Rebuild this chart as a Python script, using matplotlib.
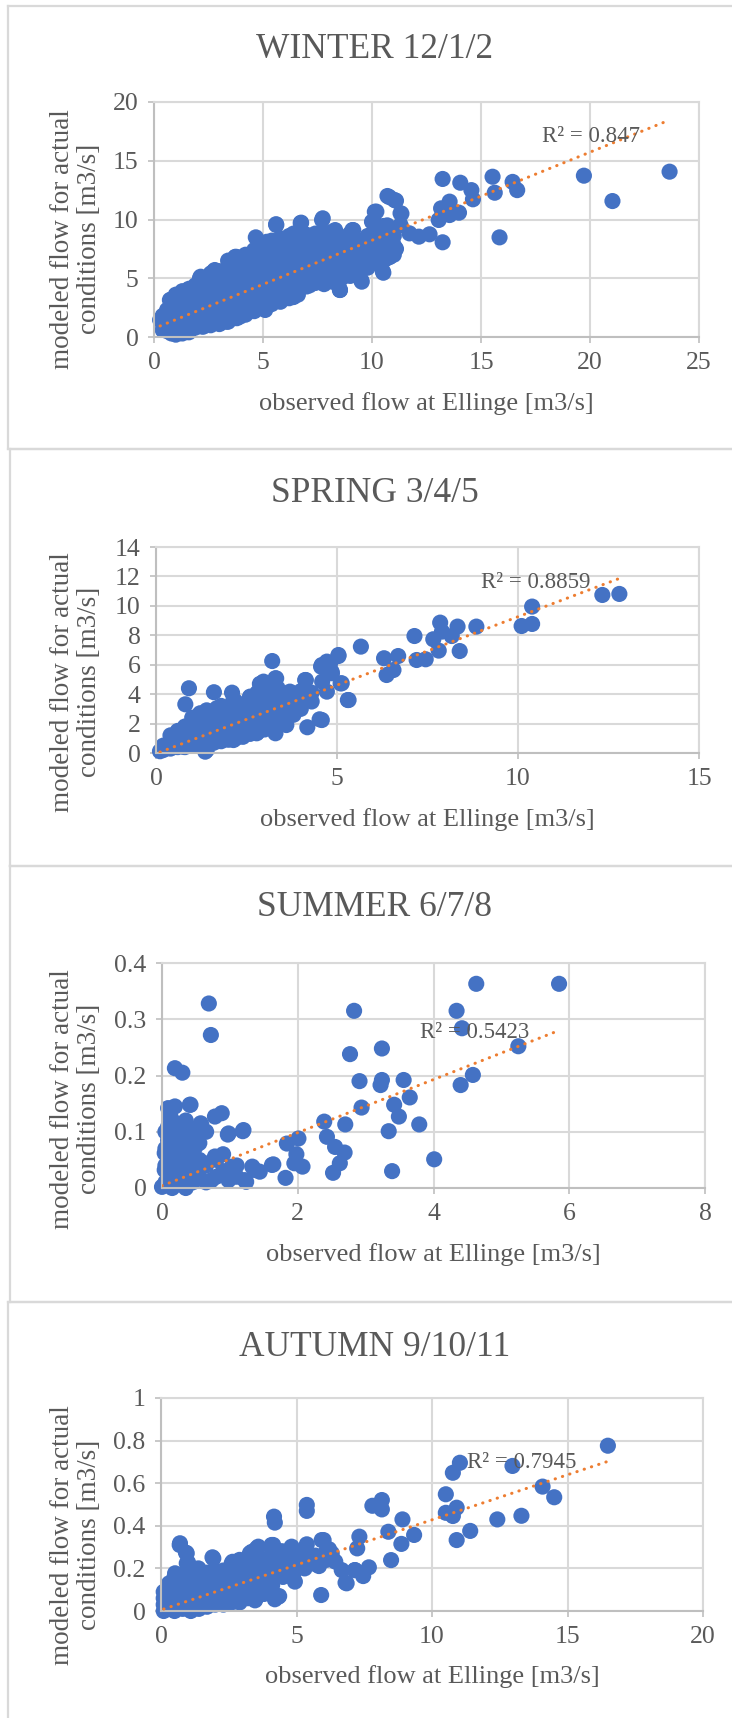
import numpy as np
import matplotlib
matplotlib.use("Agg")
import matplotlib.pyplot as plt
from matplotlib.lines import Line2D
from matplotlib.ticker import FuncFormatter

plt.rcParams["font.family"] = ["Liberation Serif", "DejaVu Serif"]

W, H = 732, 1718
BLUE = "#4472C4"
ORANGE = "#ED7D31"
TXT = "#595959"
GRID = "#D9D9D9"

titles = ["WINTER 12/1/2", "SPRING 3/4/5", "SUMMER 6/7/8", "AUTUMN 9/10/11"]
r2_labels = ["R² = 0.847", "R² = 0.8859", "R² = 0.5423", "R² = 0.7945"]
x_label = "observed flow at Ellinge [m3/s]"
y_label = "modeled flow for actual\nconditions [m3/s]"

# trendline (slope, intercept)
fits = [(0.75, 0.73), (0.93, -0.04), (0.0472, 0.004), (0.0423, 0.005)]

x_ticks = [[0, 5, 10, 15, 20, 25], [0, 5, 10, 15], [0, 2, 4, 6, 8], [0, 5, 10, 15, 20]]
y_ticks = [[0, 5, 10, 15, 20], [0, 2, 4, 6, 8, 10, 12, 14],
           [0, 0.1, 0.2, 0.3, 0.4], [0, 0.2, 0.4, 0.6, 0.8, 1]]

winter_pts = [
    (23.65, 14.07), (19.72, 13.73), (21.03, 11.57), (15.85, 8.48), (15.53, 13.64),
    (15.63, 12.28), (16.45, 13.2), (16.66, 12.5), (13.24, 13.45), (14.05, 13.13),
    (14.56, 12.5), (14.63, 11.72), (13.56, 11.52), (13.17, 10.95), (13.06, 9.96),
    (13.99, 10.58), (13.56, 10.38), (13.24, 8.06), (12.64, 8.74), (12.15, 8.54),
    (11.72, 8.82), (11.31, 10.53), (11.31, 9.53), (11.03, 11.66), (10.71, 12.0),
    (10.13, 10.66), (10.0, 9.81), (10.54, 9.45), (10.52, 5.47), (11.05, 7.55),
    (10.82, 6.83), (9.53, 4.71), (8.53, 4.0), (7.71, 9.96), (6.75, 9.73),
    (5.61, 9.53), (4.67, 8.48), (6.38, 3.43), (5.1, 2.3), (9.1, 9.1),
    (8.31, 9.1), (3.75, 6.83), (2.79, 5.7), (2.14, 5.13),
    (0.28, 1.45), (0.73, 3.15), (2.11, 5.0), (2.72, 5.56), (3.72, 6.8),
    (5.6, 9.6), (6.73, 9.7), (7.74, 10.1), (5.17, 8.1), (6.4, 8.8),
    (8.2, 8.96), (9.14, 9.1), (10.2, 10.67), (10.8, 11.9), (11.1, 11.6),
    (10.1, 9.8), (10.7, 9.5), (11.35, 10.5),
    (0.43, 0.6), (1.3, 0.5), (2.26, 0.88), (3.33, 1.3), (3.94, 1.73),
    (5.1, 2.43), (6.4, 3.4), (7.14, 4.4), (8.53, 4.0), (9.5, 4.85),
    (10.5, 5.56), (10.8, 6.8), (11.1, 7.5),
    (0.4, 0.6), (0.4, 1.2), (0.4, 1.8), (0.6, 0.5), (0.6, 1.4), (0.6, 2.3),
    (0.8, 0.3), (0.8, 1.5), (0.8, 2.6), (0.8, 3.2),
    (1.0, 0.2), (1.0, 1.3), (1.0, 2.2), (1.0, 3.0), (1.0, 3.6),
    (1.3, 0.3), (1.3, 1.5), (1.3, 2.4), (1.3, 3.3), (1.3, 3.9),
    (1.6, 0.4), (1.6, 1.6), (1.6, 2.5), (1.6, 3.4), (1.6, 4.1),
    (1.9, 0.8), (1.9, 1.7), (1.9, 2.6), (1.9, 3.5), (1.9, 4.4),
    (2.2, 0.9), (2.2, 1.8), (2.2, 2.7), (2.2, 3.6), (2.2, 4.5), (2.2, 5.0),
    (2.6, 1.0), (2.6, 1.9), (2.6, 2.8), (2.6, 3.7), (2.6, 4.6), (2.6, 5.4),
    (3.0, 1.1), (3.0, 2.0), (3.0, 2.9), (3.0, 3.8), (3.0, 4.7), (3.0, 5.6),
    (3.4, 1.3), (3.4, 2.2), (3.4, 3.1), (3.4, 4.0), (3.4, 4.9), (3.4, 5.8), (3.4, 6.5),
    (3.8, 1.6), (3.8, 2.5), (3.8, 3.4), (3.8, 4.3), (3.8, 5.2), (3.8, 6.1), (3.8, 6.8),
    (4.2, 1.9), (4.2, 2.8), (4.2, 3.7), (4.2, 4.6), (4.2, 5.5), (4.2, 6.4), (4.2, 7.0),
    (4.6, 2.2), (4.6, 3.1), (4.6, 4.0), (4.6, 4.9), (4.6, 5.8), (4.6, 6.7), (4.6, 7.4),
    (5.0, 2.5), (5.0, 3.4), (5.0, 4.3), (5.0, 5.2), (5.0, 6.1), (5.0, 7.0), (5.0, 7.8),
    (5.4, 2.8), (5.4, 3.7), (5.4, 4.6), (5.4, 5.5), (5.4, 6.4), (5.4, 7.3), (5.4, 8.2),
    (5.8, 3.0), (5.8, 3.9), (5.8, 4.8), (5.8, 5.7), (5.8, 6.6), (5.8, 7.5), (5.8, 8.4),
    (6.2, 3.3), (6.2, 4.2), (6.2, 5.1), (6.2, 6.0), (6.2, 6.9), (6.2, 7.8), (6.2, 8.6),
    (6.6, 3.6), (6.6, 4.5), (6.6, 5.4), (6.6, 6.3), (6.6, 7.2), (6.6, 8.1), (6.6, 8.9),
    (7.0, 4.3), (7.0, 5.2), (7.0, 6.1), (7.0, 7.0), (7.0, 7.9), (7.0, 8.7),
    (7.4, 4.6), (7.4, 5.5), (7.4, 6.4), (7.4, 7.3), (7.4, 8.2), (7.4, 8.8),
    (7.8, 4.5), (7.8, 5.4), (7.8, 6.3), (7.8, 7.2), (7.8, 8.1), (7.8, 8.9),
    (8.2, 4.7), (8.2, 5.6), (8.2, 6.5), (8.2, 7.4), (8.2, 8.3),
    (8.6, 5.0), (8.6, 5.9), (8.6, 6.8), (8.6, 7.7), (8.6, 8.5),
    (9.0, 5.2), (9.0, 6.1), (9.0, 7.0), (9.0, 7.9), (9.0, 8.8),
    (9.4, 5.5), (9.4, 6.4), (9.4, 7.3), (9.4, 8.2),
    (9.8, 5.9), (9.8, 6.8), (9.8, 7.7), (9.8, 8.6),
    (10.2, 6.3), (10.2, 7.2), (10.2, 8.1), (10.2, 9.0),
    (10.6, 6.6), (10.6, 7.4), (10.6, 8.3),
    (11.0, 7.0), (11.0, 7.8), (11.0, 8.6),
]

spring_pts = [
    (12.8, 10.81), (12.33, 10.74), (10.39, 9.95), (10.39, 8.77), (10.1, 8.63),
    (8.85, 8.59), (8.33, 8.59), (8.39, 6.93), (7.85, 8.86), (7.9, 8.25),
    (7.66, 7.73), (8.17, 7.95), (7.81, 6.96), (7.14, 7.95), (7.2, 6.32),
    (7.45, 6.37), (6.69, 6.59), (6.3, 6.44), (6.37, 5.3), (6.56, 5.64),
    (5.66, 7.23), (5.04, 6.59), (5.1, 4.73), (5.3, 3.6), (4.72, 6.21),
    (4.56, 5.87), (4.85, 5.53), (4.59, 4.85), (4.72, 4.17), (4.52, 2.29),
    (4.18, 1.75), (4.14, 4.96), (4.2, 3.72), (3.21, 6.25), (2.95, 4.78),
    (3.3, 5.08), (3.36, 4.4), (3.75, 4.06), (2.85, 4.06), (2.1, 4.1),
    (1.6, 4.13), (0.91, 4.4), (0.81, 3.31), (3.6, 1.9), (3.3, 1.34),
    (1.36, 0.09), (0.11, 0.12), (0.75, 1.56), (1.22, 2.7), (1.68, 3.04),
    (2.14, 3.6), (2.6, 3.83), (2.87, 4.7), (0.75, 0.43), (1.4, 0.2),
    (2.14, 0.88), (2.78, 1.34), (4.58, 2.24), (2.97, 4.85), (3.32, 5.07),
    (3.7, 4.17), (4.12, 4.96), (4.58, 5.98), (4.81, 6.1), (5.04, 6.66),
    (4.86, 5.42), (5.13, 4.74), (5.32, 3.6),
    (0.2, 0.2), (0.2, 0.5), (0.4, 0.3), (0.4, 0.8), (0.4, 1.2),
    (0.6, 0.4), (0.6, 1.0), (0.6, 1.5), (0.8, 0.4), (0.8, 1.1), (0.8, 1.8),
    (1.0, 0.5), (1.0, 1.2), (1.0, 1.9), (1.0, 2.4),
    (1.2, 0.6), (1.2, 1.3), (1.2, 2.0), (1.2, 2.6),
    (1.4, 0.4), (1.4, 1.1), (1.4, 1.8), (1.4, 2.5), (1.4, 2.9),
    (1.6, 0.7), (1.6, 1.4), (1.6, 2.1), (1.6, 2.8),
    (1.8, 0.8), (1.8, 1.5), (1.8, 2.2), (1.8, 2.9), (1.8, 3.2),
    (2.0, 0.9), (2.0, 1.6), (2.0, 2.3), (2.0, 3.0),
    (2.2, 1.0), (2.2, 1.7), (2.2, 2.4), (2.2, 3.1), (2.2, 3.5),
    (2.4, 1.1), (2.4, 1.8), (2.4, 2.5), (2.4, 3.2),
    (2.6, 1.3), (2.6, 2.0), (2.6, 2.7), (2.6, 3.4), (2.6, 3.8),
    (2.8, 1.4), (2.8, 2.1), (2.8, 2.8), (2.8, 3.5), (2.8, 4.1),
    (3.0, 1.6), (3.0, 2.3), (3.0, 3.0), (3.0, 3.7), (3.0, 4.3),
    (3.2, 1.8), (3.2, 2.5), (3.2, 3.2), (3.2, 3.9),
    (3.4, 2.0), (3.4, 2.7), (3.4, 3.4), (3.4, 4.0),
    (3.6, 2.2), (3.6, 2.9), (3.6, 3.5), (3.8, 2.6), (3.8, 3.3), (3.8, 3.9),
    (4.0, 3.0), (4.0, 3.6), (4.0, 4.2), (4.3, 3.5), (4.3, 4.1),
]

summer_pts = [
    (5.85, 0.363), (4.63, 0.363), (4.34, 0.315), (4.42, 0.284), (5.25, 0.252),
    (4.58, 0.201), (4.4, 0.183), (4.01, 0.051), (3.79, 0.113), (3.65, 0.161),
    (3.56, 0.192), (3.49, 0.127), (3.42, 0.148), (3.34, 0.101), (3.39, 0.030),
    (3.24, 0.248), (3.24, 0.192), (3.22, 0.183), (2.83, 0.315), (2.77, 0.238),
    (2.91, 0.190), (2.94, 0.143), (2.7, 0.113), (2.69, 0.063), (2.62, 0.044),
    (2.52, 0.027), (2.55, 0.073), (2.43, 0.091), (2.39, 0.118), (2.01, 0.088),
    (1.98, 0.060), (2.07, 0.038), (1.95, 0.044), (1.82, 0.018), (1.84, 0.079),
    (1.64, 0.042), (1.44, 0.029), (1.33, 0.038), (1.24, 0.011), (1.19, 0.101),
    (0.97, 0.095), (0.88, 0.133), (0.78, 0.127), (0.69, 0.328), (0.72, 0.272),
    (0.19, 0.213), (0.30, 0.205), (0.42, 0.148), (0.19, 0.145), (0.12, 0.127),
    (0.57, 0.115), (0.41, 0.148), (0.12, 0.130), (0.09, 0.109), (0.58, 0.112),
    (0.98, 0.097), (1.2, 0.103), (0.09, 0.085), (0.04, 0.062), (0.39, 0.097),
    (0.19, 0.073), (0.49, 0.073), (0.78, 0.056), (0.63, 0.044), (1.03, 0.038),
    (1.22, 0.014), (1.37, 0.032), (1.62, 0.041), (0.0, 0.002), (0.19, 0.014),
    (0.44, 0.014), (0.73, 0.014), (0.98, 0.014), (0.04, 0.032), (0.29, 0.044),
    (0.09, 0.142),
    (0.05, 0.01), (0.05, 0.04), (0.05, 0.07), (0.05, 0.10),
    (0.15, 0.0), (0.15, 0.03), (0.15, 0.06), (0.15, 0.09), (0.15, 0.12),
    (0.25, 0.01), (0.25, 0.04), (0.25, 0.07), (0.25, 0.10),
    (0.35, 0.0), (0.35, 0.03), (0.35, 0.06), (0.35, 0.09), (0.35, 0.12),
    (0.45, 0.01), (0.45, 0.04), (0.45, 0.07), (0.45, 0.10),
    (0.55, 0.02), (0.55, 0.05), (0.55, 0.08), (0.65, 0.01), (0.65, 0.04), (0.65, 0.10),
    (0.8, 0.02), (0.8, 0.05), (0.9, 0.03), (0.9, 0.06), (1.1, 0.02), (1.1, 0.04),
]

autumn_pts = [
    (16.49, 0.776), (11.03, 0.696), (10.77, 0.649), (12.97, 0.681), (10.51, 0.548),
    (14.08, 0.584), (14.51, 0.534), (13.3, 0.447), (12.41, 0.430), (11.41, 0.376),
    (10.91, 0.333), (10.91, 0.485), (10.51, 0.461), (10.77, 0.446), (8.91, 0.430),
    (9.34, 0.357), (8.87, 0.315), (8.39, 0.372), (8.49, 0.239), (8.15, 0.521),
    (8.15, 0.477), (7.8, 0.494), (7.32, 0.349), (7.24, 0.294), (7.67, 0.205),
    (7.46, 0.164), (7.15, 0.192), (6.81, 0.133), (5.91, 0.075), (6.0, 0.333),
    (6.2, 0.290), (6.43, 0.232), (5.83, 0.211), (5.55, 0.232), (5.38, 0.498),
    (5.38, 0.470), (5.38, 0.313), (4.94, 0.138), (4.17, 0.443), (4.2, 0.415),
    (4.14, 0.310), (4.36, 0.070), (4.2, 0.055), (4.83, 0.294), (4.41, 0.28),
    (3.53, 0.294), (3.28, 0.271), (1.9, 0.252), (0.69, 0.310), (0.92, 0.274),
    (1.0, 0.227), (2.64, 0.231),
    (0.70, 0.318), (0.95, 0.271), (0.95, 0.224), (1.93, 0.247), (0.52, 0.177),
    (1.38, 0.2), (2.61, 0.224), (3.35, 0.278), (3.59, 0.302), (4.08, 0.310),
    (4.82, 0.302), (5.93, 0.333), (4.2, 0.271), (4.51, 0.224), (4.33, 0.067),
    (5.68, 0.224), (6.3, 0.271), (6.67, 0.192), (7.16, 0.192), (6.85, 0.130),
    (3.72, 0.208), (3.22, 0.161), (3.84, 0.114), (3.47, 0.05),
    (0.1, 0.0), (0.1, 0.03), (0.1, 0.06), (0.1, 0.09),
    (0.3, 0.01), (0.3, 0.05), (0.3, 0.09), (0.3, 0.13),
    (0.5, 0.0), (0.5, 0.04), (0.5, 0.08), (0.5, 0.12), (0.5, 0.16),
    (0.8, 0.01), (0.8, 0.05), (0.8, 0.09), (0.8, 0.13), (0.8, 0.17),
    (1.1, 0.0), (1.1, 0.04), (1.1, 0.08), (1.1, 0.12), (1.1, 0.16),
    (1.4, 0.01), (1.4, 0.05), (1.4, 0.09), (1.4, 0.13), (1.4, 0.17),
    (1.7, 0.02), (1.7, 0.06), (1.7, 0.10), (1.7, 0.14), (1.7, 0.18),
    (2.0, 0.03), (2.0, 0.07), (2.0, 0.11), (2.0, 0.15), (2.0, 0.19),
    (2.3, 0.03), (2.3, 0.07), (2.3, 0.11), (2.3, 0.15), (2.3, 0.19),
    (2.6, 0.04), (2.6, 0.08), (2.6, 0.12), (2.6, 0.16), (2.6, 0.2),
    (2.9, 0.04), (2.9, 0.08), (2.9, 0.12), (2.9, 0.16), (2.9, 0.2), (2.9, 0.24),
    (3.2, 0.06), (3.2, 0.1), (3.2, 0.14), (3.2, 0.18), (3.2, 0.22),
    (3.5, 0.06), (3.5, 0.1), (3.5, 0.14), (3.5, 0.18), (3.5, 0.22), (3.5, 0.26),
    (3.8, 0.08), (3.8, 0.12), (3.8, 0.16), (3.8, 0.2), (3.8, 0.24),
    (4.1, 0.12), (4.1, 0.16), (4.1, 0.2), (4.1, 0.24), (4.1, 0.28),
    (4.5, 0.16), (4.5, 0.2), (4.5, 0.24), (4.5, 0.28),
    (4.9, 0.18), (4.9, 0.22), (4.9, 0.26), (5.3, 0.2), (5.3, 0.24), (5.3, 0.28),
    (5.7, 0.22), (5.7, 0.26), (6.1, 0.24), (6.1, 0.28),
]

seasons = [winter_pts, spring_pts, summer_pts, autumn_pts]

# layout in pixels (left, right, top, bottom) of each plot area
axes_px = [(154, 699, 102, 337), (156, 699, 547, 753), (162, 705, 963, 1188), (161, 703, 1398, 1611)]
title_y = [49, 493, 908, 1347]
ylab_y = [239, 682, 1099, 1535]
xlab_y = [404, 820, 1255, 1677]
r2_pos = [(542, 137), (481, 582), (420, 1032), (467, 1463)]
# chart frames: left x, top y, bottom y
frames = [(8, 6, 449), (10, 449, 866), (10, 866, 1302), (8, 1302, 1730)]

fig = plt.figure(figsize=(W / 100, H / 100), dpi=100)


def fx(x):
    return x / W


def fy(y):
    return 1 - y / H


for left, top, bottom in frames:
    fig.add_artist(Line2D([fx(left), fx(left)], [fy(top), fy(bottom)], color=GRID, lw=1.6))
    fig.add_artist(Line2D([fx(left), 1.0], [fy(top), fy(top)], color=GRID, lw=1.6))
    fig.add_artist(Line2D([fx(left), 1.0], [fy(bottom), fy(bottom)], color=GRID, lw=1.6))

fmt = FuncFormatter(lambda v, p: f"{v:g}")

for i, pts in enumerate(seasons):
    l, r, t, b = axes_px[i]
    ax = fig.add_axes([fx(l), fy(b), (r - l) / W, (b - t) / H])
    obs, mod = np.array(pts).T
    ax.scatter(obs, mod, s=135, color=BLUE, edgecolors="none", zorder=2, clip_on=False)

    k, c = fits[i]
    xs = np.array([obs.min(), obs.max()])
    ax.plot(xs, k * xs + c, color=ORANGE, lw=2.2, linestyle=(0, (0.1, 2.4)),
            dash_capstyle="round", zorder=3)

    ax.set_xlim(x_ticks[i][0], x_ticks[i][-1])
    ax.set_ylim(y_ticks[i][0], y_ticks[i][-1])
    ax.set_xticks(x_ticks[i])
    ax.set_yticks(y_ticks[i])
    ax.xaxis.set_major_formatter(fmt)
    ax.yaxis.set_major_formatter(fmt)
    ax.grid(True, color=GRID, lw=1.5, zorder=0)
    ax.set_axisbelow(True)
    for s in ax.spines.values():
        s.set_color(GRID)
        s.set_linewidth(1.5)
    ax.spines["left"].set_color("#BFBFBF")
    ax.spines["bottom"].set_color("#BFBFBF")
    ax.tick_params(length=4, width=1.2, color="#BFBFBF", labelcolor=TXT,
                   labelsize=18.5, pad=7)

    fig.text(fx(375), fy(title_y[i]), titles[i], ha="center", va="center",
             fontsize=25.5, color=TXT)
    fig.text(fx((l + r) / 2), fy(xlab_y[i]), x_label, ha="center", va="center",
             fontsize=19, color=TXT)
    fig.text(fx(76), fy(ylab_y[i]), y_label, ha="center", va="center", rotation=90,
             multialignment="center", fontsize=19.5, color=TXT, linespacing=1.12)
    fig.text(fx(r2_pos[i][0]), fy(r2_pos[i][1]), r2_labels[i], ha="left", va="center",
             fontsize=16.5, color=TXT, zorder=5)

fig.savefig("out.png", dpi=100)
